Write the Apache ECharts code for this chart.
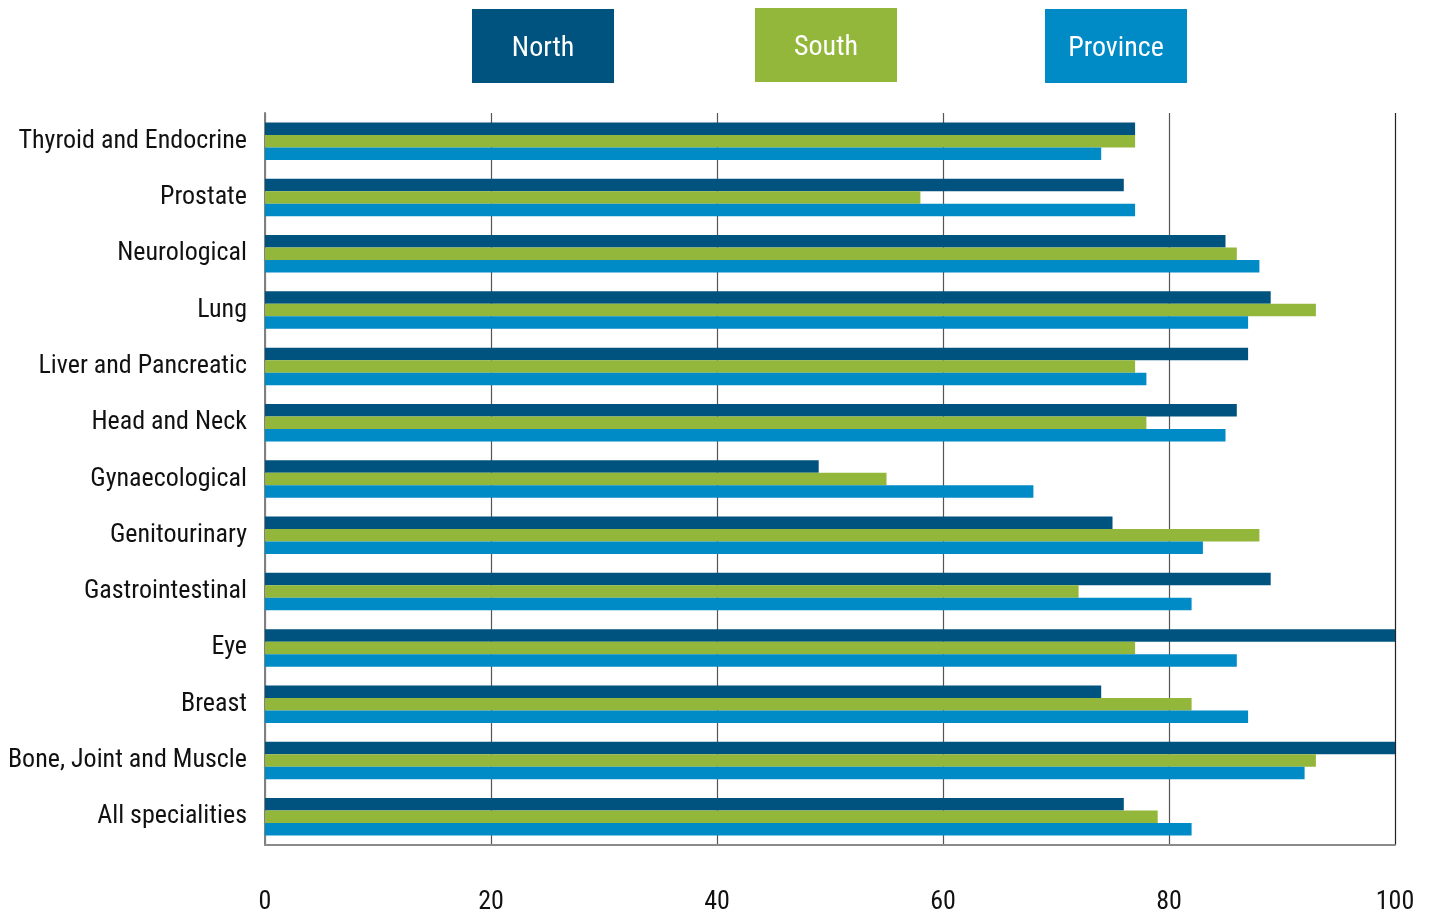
<!DOCTYPE html>
<html>
<head>
<meta charset="utf-8">
<script src="https://cdn.jsdelivr.net/npm/echarts@6/dist/echarts.min.js"></script>
<style>
html,body{margin:0;padding:0;background:#fff;}
#chart{width:1434px;height:916px;}
</style>
</head>
<body>
<div id="chart"></div>
<script>
var categories = ["Thyroid and Endocrine","Prostate","Neurological","Lung","Liver and Pancreatic","Head and Neck","Gynaecological","Genitourinary","Gastrointestinal","Eye","Breast","Bone, Joint and Muscle","All specialities"];
var seriesNames = ["North","South","Province"];
var north =    [77, 76, 85, 89, 87, 86, 49, 75, 89, 100, 74, 100, 76];
var south =    [77, 58, 86, 93, 77, 78, 55, 88, 72, 77, 82, 93, 79];
var province = [74, 77, 88, 87, 78, 85, 68, 83, 82, 86, 87, 92, 82];
var xTicks = [0, 20, 40, 60, 80, 100];

var colors = ["#00537e", "#93b73b", "#008ac6"];
var FONT = "'Liberation Sans Narrow', 'Roboto Condensed', 'DejaVu Sans Condensed', sans-serif";

var chart = echarts.init(document.getElementById('chart'));
var data = [north, south, province];
var legendX = [472, 755, 1045];
var legendY = [9, 8, 9];
var graphics = seriesNames.map(function(n, i){
  return {
    type: 'group', left: legendX[i], top: legendY[i],
    children: [
      {type:'rect', shape:{x:0,y:0,width:142,height:74}, style:{fill:colors[i]}},
      {type:'text', x:71, y:40, style:{text:n, fill:'#fff', font:'28px ' + FONT, align:'center', verticalAlign:'middle'}}
    ]
  };
});

chart.setOption({
  animation: false,
  color: colors,
  grid: {left: 265, right: 39, top: 113, bottom: 71, containLabel: false},
  graphic: graphics,
  xAxis: {
    type: 'value', min: xTicks[0], max: xTicks[xTicks.length-1], interval: 20,
    axisLine: {show: true, lineStyle: {color: '#8a8a8a', width: 2}},
    axisTick: {show: false},
    axisLabel: {margin: 44, color: '#111', fontSize: 26, fontFamily: FONT},
    splitLine: {show: true, lineStyle: {color: ['#555','#555','#555','#555','#555','#222'], width: 1.2}}
  },
  yAxis: {
    type: 'category', data: categories, inverse: true,
    axisLine: {show: true, lineStyle: {color: '#808080', width: 2}},
    axisTick: {show: false},
    axisLabel: {margin: 18, color: '#111', fontSize: 26, fontFamily: FONT},
    splitLine: {show: false}
  },
  series: seriesNames.map(function(n, i){
    return {
      name: n, type: 'bar', data: data[i], barWidth: 12.5, barGap: '0%',
      itemStyle: {color: colors[i]}
    };
  })
});
</script>
</body>
</html>
